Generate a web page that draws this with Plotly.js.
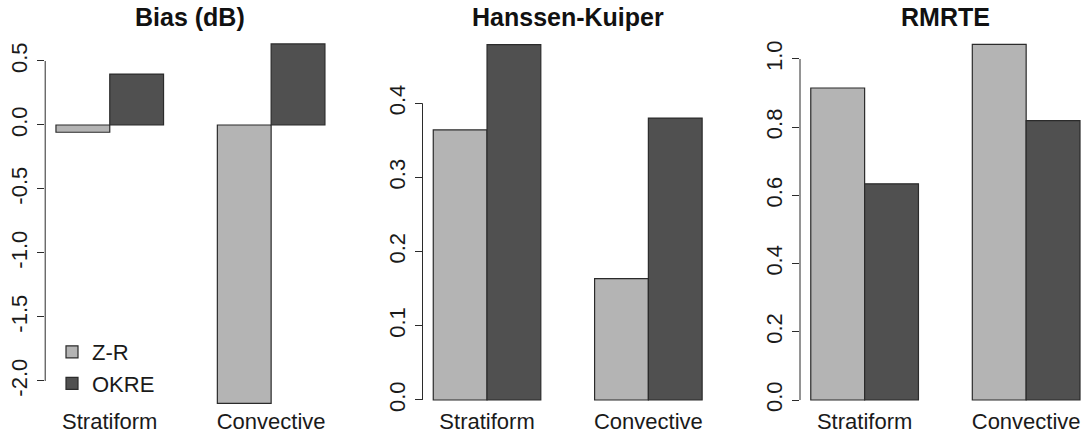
<!DOCTYPE html>
<html>
<head>
<meta charset="utf-8">
<script src="https://cdn.plot.ly/plotly-3.0.1.min.js"></script>
<style>html,body{margin:0;padding:0;background:#fff;}#chart{width:1082px;height:434px;}</style>
</head>
<body>
<div id="chart"></div>
<script>
const categories = ['Stratiform', 'Convective'];
const seriesNames = ['Z-R', 'OKRE'];
const biasZR = [-0.057, -2.175];
const biasOKRE = [0.398, 0.633];
const hkZR = [0.364, 0.1635];
const hkOKRE = [0.479, 0.380];
const rmrteZR = [0.915, 1.043];
const rmrteOKRE = [0.634, 0.819];
const panelTitles = ['Bias (dB)', 'Hanssen-Kuiper', 'RMRTE'];
const biasTicks = [-2.0, -1.5, -1.0, -0.5, 0.0, 0.5];
const hkTicks = [0.0, 0.1, 0.2, 0.3, 0.4];
const rmrteTicks = [0.0, 0.2, 0.4, 0.6, 0.8, 1.0];

const W = 1082, H = 434;
const FONT = '"Liberation Sans", Arial, Helvetica, sans-serif';
const light = '#b4b4b4', dark = '#505050', edge = '#2b2b2b';

const panels = [
  {zr: biasZR, ok: biasOKRE, ticks: biasTicks, xdom: [45.2, 335.7], ydom: [30, 414], yr: [-2.258, 0.742], xr: [-0.4, 1.4]},
  {zr: hkZR, ok: hkOKRE, ticks: hkTicks, xdom: [422.5, 712.9], ydom: [30, 414], yr: [-0.0189, 0.4987], xr: [-0.4, 1.4]},
  {zr: rmrteZR, ok: rmrteOKRE, ticks: rmrteTicks, xdom: [800, 1082], ydom: [30, 414], yr: [-0.041, 1.085], xr: [-0.4, 1.3457]}
];

const data = [];
const layout = {
  width: W, height: H,
  margin: {l: 0, r: 0, t: 0, b: 0},
  paper_bgcolor: '#ffffff', plot_bgcolor: '#ffffff',
  font: {family: FONT, color: '#1a1a1a', size: 22},
  barmode: 'group', bargap: 1/3, bargroupgap: 0,
  showlegend: true,
  legend: {x: 52/W, y: 1 - 331/H, xanchor: 'left', yanchor: 'top', bgcolor: 'rgba(0,0,0,0)',
           font: {size: 22, family: FONT, color: '#1a1a1a'}, itemwidth: 30, tracegroupgap: 0},
  shapes: [], annotations: []
};

panels.forEach((p, i) => {
  const n = i + 1;
  const xa = n === 1 ? 'x' : 'x' + n;
  const ya = n === 1 ? 'y' : 'y' + n;
  data.push({type: 'bar', x: categories, y: p.zr, name: seriesNames[0], xaxis: xa, yaxis: ya,
             legendgroup: 'zr', showlegend: i === 0,
             marker: {color: light, line: {color: edge, width: 1.2}}, hoverinfo: 'skip'});
  data.push({type: 'bar', x: categories, y: p.ok, name: seriesNames[1], xaxis: xa, yaxis: ya,
             legendgroup: 'ok', showlegend: i === 0,
             marker: {color: dark, line: {color: edge, width: 1.2}}, hoverinfo: 'skip'});
  const xk = n === 1 ? 'xaxis' : 'xaxis' + n;
  const yk = n === 1 ? 'yaxis' : 'yaxis' + n;
  layout[xk] = {domain: [p.xdom[0] / W, Math.min(1, p.xdom[1] / W)], range: p.xr, anchor: ya,
                showgrid: false, zeroline: false, showline: false, ticks: '', ticklen: 0,
                type: 'category', tickfont: {size: 22, family: FONT, color: '#1a1a1a'},
                ticklabelstandoff: -8, fixedrange: true};
  layout[yk] = {domain: [1 - p.ydom[1] / H, 1 - p.ydom[0] / H], range: p.yr, anchor: xa,
                showgrid: false, zeroline: false, showline: false,
                ticks: 'outside', ticklen: 7, tickwidth: 1, tickcolor: edge,
                tickmode: 'array', tickvals: p.ticks, ticktext: p.ticks.map(v => v.toFixed(1)),
                tickangle: -90, tickfont: {size: 22, family: FONT, color: '#1a1a1a'},
                ticklabelstandoff: 1, fixedrange: true};
  layout.shapes.push({type: 'line', xref: xa + ' domain', yref: ya, x0: 0, x1: 0,
                      y0: Math.min(...p.ticks), y1: Math.max(...p.ticks),
                      line: {color: edge, width: 1}});
  layout.annotations.push({xref: 'paper', yref: 'paper',
                           x: (p.xdom[0] + p.xdom[1]) / 2 / W, y: 1 - 17 / H,
                           xanchor: 'center', yanchor: 'middle', showarrow: false,
                           text: '<b>' + panelTitles[i] + '</b>',
                           font: {size: 25, family: FONT, color: '#111111'}});
});
// RMRTE title sits over the (cropped) plot region centre
layout.annotations[2].x = (800 + 1090.8) / 2 / W;

Plotly.newPlot('chart', data, layout, {displayModeBar: false, staticPlot: true});
</script>
</body>
</html>
